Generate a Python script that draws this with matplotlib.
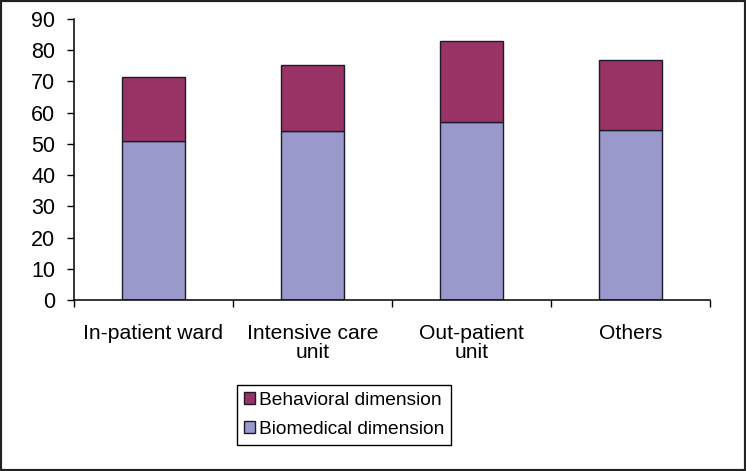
import matplotlib
matplotlib.use("Agg")
import matplotlib.pyplot as plt
from matplotlib.patches import Rectangle
import numpy as np

plt.rcParams['font.family'] = ['Liberation Sans', 'DejaVu Sans']

categories = ['In-patient ward', 'Intensive care\nunit', 'Out-patient\nunit', 'Others']
biomedical = [51.0, 54.0, 57.0, 54.3]
behavioral = [20.4, 21.3, 25.8, 22.6]
yticks = [0, 10, 20, 30, 40, 50, 60, 70, 80, 90]

fig = plt.figure(figsize=(7.46, 4.71), dpi=100)
ax = fig.add_axes([0.0992, 0.363, 0.8525, 0.5967])

x = np.arange(len(categories))
b1 = ax.bar(x, biomedical, width=0.4, color='#9999cc', edgecolor='#1a1a2a', linewidth=1.0,
            label='Biomedical dimension')
b2 = ax.bar(x, behavioral, width=0.4, bottom=biomedical, color='#993366', edgecolor='#1a1a2a',
            linewidth=1.0, label='Behavioral dimension')

ax.set_xlim(-0.5, len(categories) - 0.5)
ax.set_ylim(0, 90)
ax.set_yticks(yticks)
ax.tick_params(axis='y', labelsize=15.5, length=5, width=1, pad=8.5)
ax.set_xticks(x)
ax.set_xticklabels(categories, fontsize=15.2, linespacing=1.0)
ax.set_xticks(np.arange(len(categories) + 1) - 0.5, minor=True)
ax.tick_params(axis='x', which='major', length=0, pad=17)
ax.tick_params(axis='x', which='minor', length=5, width=1)
for s in ['top', 'right']:
    ax.spines[s].set_visible(False)
for s in ['left', 'bottom']:
    ax.spines[s].set_linewidth(1.1)

leg = fig.legend([b2, b1], ['Behavioral dimension', 'Biomedical dimension'],
                 loc='center', bbox_to_anchor=(0.461, 0.119), fontsize=13.8,
                 handlelength=0.6, handleheight=0.6, handletextpad=0.2,
                 labelspacing=0.62, borderpad=0.35, fancybox=False,
                 framealpha=1, edgecolor='black')
leg.get_frame().set_linewidth(1.0)

fig.patches.append(Rectangle((0, 0), 1, 1, transform=fig.transFigure, fill=False,
                             edgecolor='#222222', linewidth=3))

fig.savefig('out.png', dpi=100)
